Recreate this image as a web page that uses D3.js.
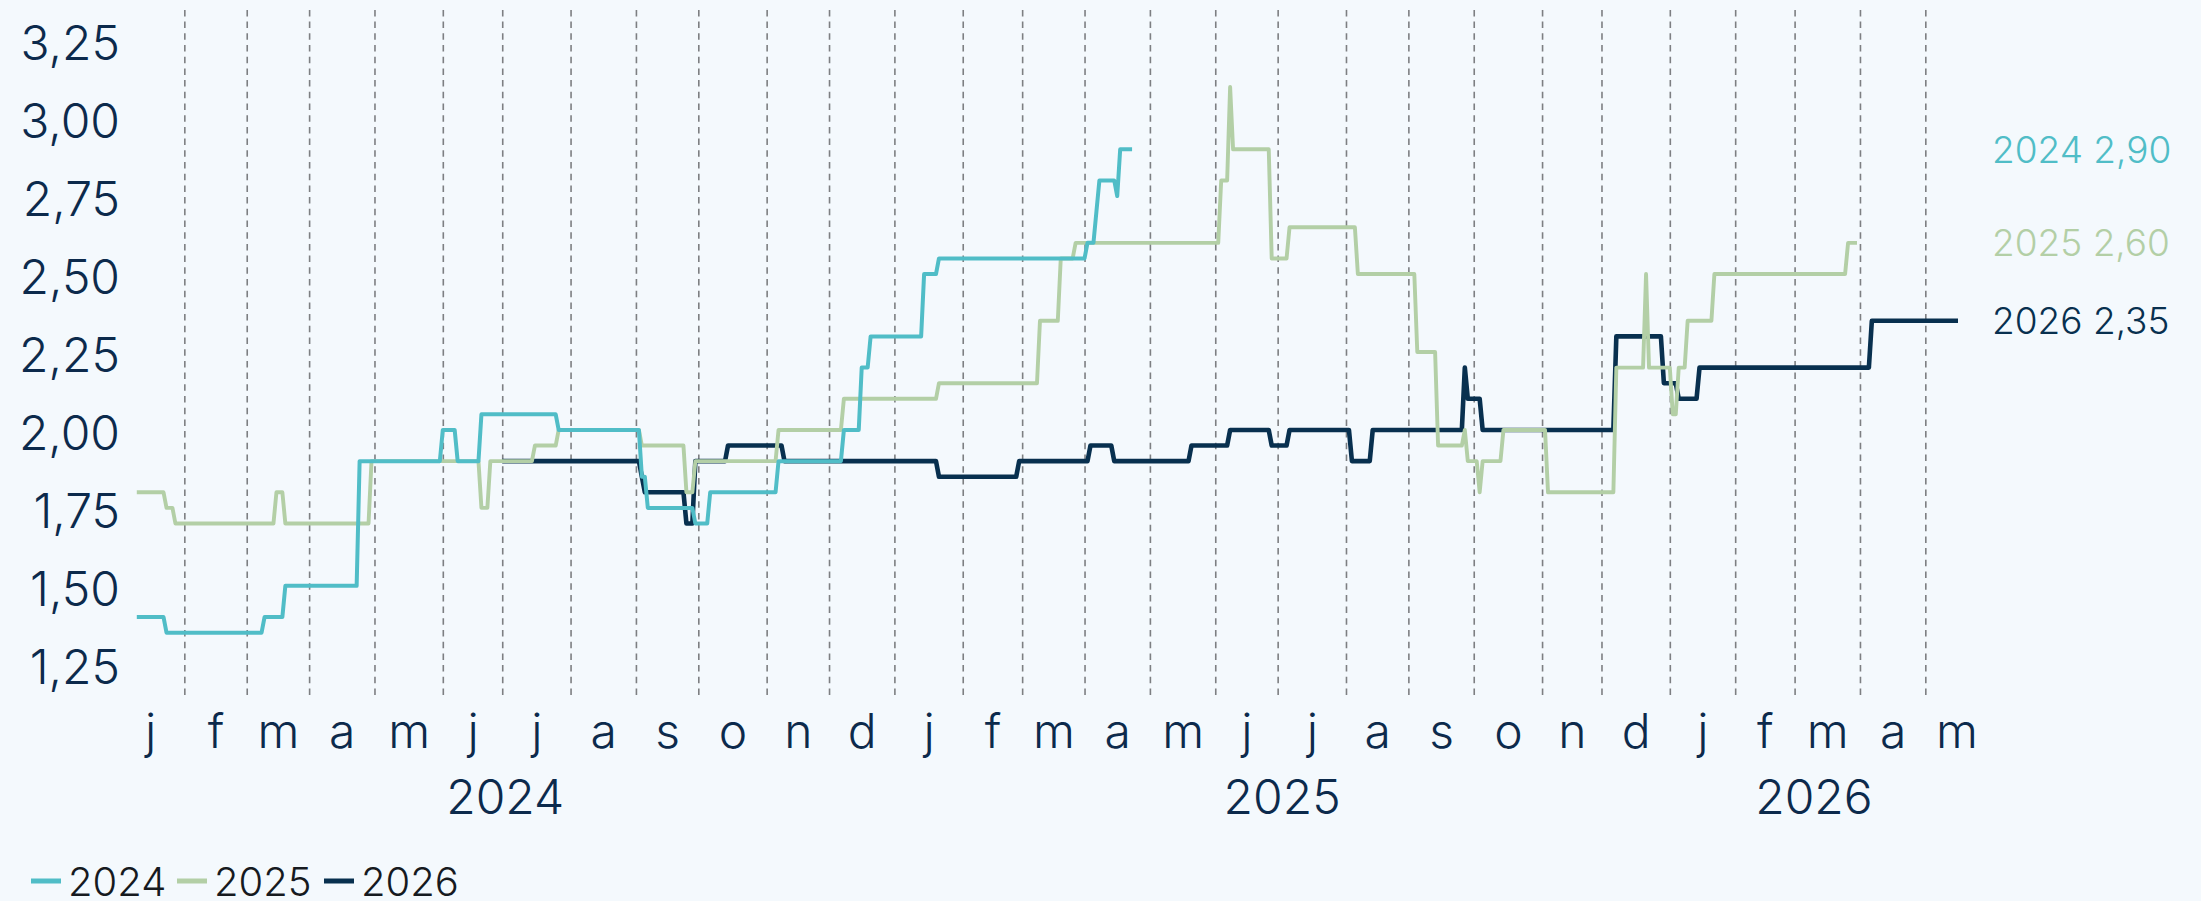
<!DOCTYPE html>
<html>
<head>
<meta charset="utf-8">
<script src="https://cdn.jsdelivr.net/npm/d3@7"></script>
<style>
  html, body { margin: 0; padding: 0; background: #f4f9fd; }
  svg { display: block; }
  text { font-family: Inter, "Noto Sans", sans-serif; font-weight: 300; }
</style>
</head>
<body>
<svg id="chart" width="2201" height="901"></svg>
<script>
// ---- data -------------------------------------------------------------
// Each series is a list of change points: the date a new quote starts and its value.
const seriesNames = ["2024", "2025", "2026"];

const dates2024  = ["2024-01-10","2024-01-24","2024-03-11","2024-03-20","2024-04-24","2024-06-03","2024-06-10",
                    "2024-06-20","2024-07-26","2024-09-04","2024-09-06","2024-09-30","2024-10-07","2024-11-07",
                    "2024-12-09","2024-12-17","2024-12-20","2025-01-15","2025-01-22","2025-04-02","2025-04-07",
                    "2025-04-08","2025-04-16","2025-04-17"];
const values2024 = [1.40,1.35,1.40,1.50,1.90,2.00,1.90,
                    2.05,2.00,1.85,1.75,1.70,1.80,1.90,
                    2.00,2.20,2.30,2.50,2.55,2.60,2.70,
                    2.80,2.75,2.90];
const last2024   = "2025-04-23";

const dates2025  = ["2024-01-10","2024-01-24","2024-01-29","2024-03-15","2024-03-20","2024-04-30","2024-06-20",
                    "2024-06-25","2024-07-16","2024-07-26","2024-09-04","2024-09-25","2024-09-30","2024-11-07",
                    "2024-12-09","2025-01-22","2025-03-11","2025-03-20","2025-03-27","2025-06-04","2025-06-09",
                    "2025-06-10","2025-06-27","2025-07-07","2025-08-07","2025-09-04","2025-09-15","2025-09-26",
                    "2025-09-29","2025-10-03","2025-10-06","2025-10-15","2025-11-05","2025-12-08","2025-12-22",
                    "2025-12-23","2026-01-02","2026-01-06","2026-01-09","2026-01-22","2026-03-26"];
const values2025 = [1.80,1.75,1.70,1.80,1.70,1.90,1.75,
                    1.90,1.95,2.00,1.95,1.80,1.90,2.00,
                    2.10,2.15,2.35,2.55,2.60,2.80,3.10,
                    2.90,2.55,2.65,2.50,2.25,1.95,2.00,
                    1.90,1.80,1.90,2.00,1.80,2.20,2.50,
                    2.20,2.05,2.20,2.35,2.50,2.60];
const last2025   = "2026-03-31";

const dates2026  = ["2024-07-01","2024-09-04","2024-09-05","2024-09-25","2024-09-30","2024-10-15","2024-11-11",
                    "2025-01-22","2025-02-28","2025-04-03","2025-04-15","2025-05-21","2025-06-09","2025-06-27",
                    "2025-07-07","2025-08-05","2025-08-14","2025-09-26","2025-09-29","2025-10-06","2025-12-08",
                    "2025-12-30","2026-01-06","2026-01-15","2026-04-07"];
const values2026 = [1.90,1.85,1.80,1.70,1.90,1.95,1.90,
                    1.85,1.90,1.95,1.90,1.95,2.00,1.95,
                    2.00,1.90,2.00,2.20,2.10,2.00,2.30,
                    2.15,2.10,2.20,2.35];
const last2026   = "2026-05-18";

// axis labels
const monthLetters = ["j","f","m","a","m","j","j","a","s","o","n","d"];
const yearLabels   = ["2024","2025","2026"];
const yTicks       = [1.25,1.50,1.75,2.00,2.25,2.50,2.75,3.00,3.25];
const yDomain      = [1.15, 3.35];
const axisStart    = "2024-01-01";
const axisEnd      = "2026-05-18";

// ---- styling ----------------------------------------------------------
const colors = { "2024": "#50bdc7", "2025": "#b3cfa6", "2026": "#08304f" };
const widths = { "2024": 4, "2025": 3.9, "2026": 4.6 };
const textColor = "#0c2a4c";

// ---- helpers ----------------------------------------------------------
const parse = d3.utcParse("%Y-%m-%d");
const t0 = parse(axisStart);
const isWeekday = d => d.getUTCDay() !== 0 && d.getUTCDay() !== 6;
// position along the trading-day axis: number of weekdays since the axis start
const tradingIndex = d => d3.utcDays(t0, d).filter(isWeekday).length;

const locale = d3.formatLocale({ decimal: ",", thousands: ".", grouping: [3], currency: ["", ""] });
const fmt = locale.format(".2f");

const svg = d3.select("#chart");
const plot = { left: 116, right: 1958, top: 9, bottom: 695 };

const x = d3.scaleLinear()
  .domain([0, tradingIndex(parse(axisEnd))])
  .range([plot.left, plot.right]);
const y = d3.scaleLinear().domain(yDomain).range([plot.bottom, plot.top]);

// ---- month gridlines --------------------------------------------------
const monthStarts = d3.utcMonths(parse("2024-02-01"), d3.utcDay.offset(parse(axisEnd), 1));
svg.append("g")
  .attr("transform", `translate(0,${plot.bottom})`)
  .call(d3.axisBottom(x)
    .tickValues(monthStarts.map(tradingIndex))
    .tickSize(-(plot.bottom - plot.top))
    .tickFormat(""))
  .call(g => g.select(".domain").remove())
  .call(g => g.selectAll(".tick line")
    .attr("stroke", "#7d7f82")
    .attr("stroke-width", 1.6)
    .attr("stroke-dasharray", "6.5,5.2"));

// ---- y axis labels ----------------------------------------------------
svg.append("g")
  .attr("transform", "translate(120,0)")
  .call(d3.axisLeft(y).tickValues(yTicks).tickSize(0).tickPadding(0).tickFormat(fmt))
  .call(g => g.select(".domain").remove())
  .call(g => g.selectAll(".tick text")
    .attr("dy", "0.4em")
    .attr("fill", textColor)
    .attr("font-size", 48)
    .attr("font-family", "Inter, 'Noto Sans', sans-serif"));

// ---- month letters (centred in each month) ----------------------------
const allMonths = d3.utcMonths(t0, parse("2026-06-01"));
const monthMid = m => (tradingIndex(m) + tradingIndex(d3.utcMonth.offset(m, 1))) / 2;
svg.append("g")
  .attr("transform", `translate(0,${plot.bottom})`)
  .call(d3.axisBottom(x)
    .tickValues(allMonths.map(monthMid))
    .tickSize(0)
    .tickFormat((d, i) => monthLetters[allMonths[i].getUTCMonth()]))
  .call(g => g.select(".domain").remove())
  .call(g => g.selectAll(".tick text")
    .attr("y", 53).attr("dy", 0)
    .attr("fill", textColor)
    .attr("font-size", 48)
    .attr("font-family", "Inter, 'Noto Sans', sans-serif"));

// ---- year labels (centred on the visible part of each year) -----------
const endIdx = tradingIndex(parse(axisEnd));
svg.append("g").selectAll("text")
  .data(yearLabels)
  .join("text")
  .attr("x", yr => {
    const a = Math.max(0, tradingIndex(parse(yr + "-01-01")));
    const b = Math.min(endIdx, tradingIndex(parse((+yr + 1) + "-01-01")));
    return x((a + b) / 2);
  })
  .attr("y", 814)
  .attr("text-anchor", "middle")
  .attr("fill", textColor)
  .attr("font-size", 48)
  .text(d => d);

// ---- series -----------------------------------------------------------
const rawSeries = {
  "2024": { dates: dates2024, values: values2024, last: last2024 },
  "2025": { dates: dates2025, values: values2025, last: last2025 },
  "2026": { dates: dates2026, values: values2026, last: last2026 }
};

// Daily quotes hold their value until the next change; each change is drawn
// from the previous trading day to the day it takes effect.
function stepPoints(s) {
  const pts = [];
  s.dates.forEach((ds, i) => {
    const k = tradingIndex(parse(ds));
    if (i > 0) pts.push([k - 1, s.values[i - 1]]);
    pts.push([k, s.values[i]]);
  });
  pts.push([tradingIndex(parse(s.last)), s.values[s.values.length - 1]]);
  return pts;
}

const line = d3.line().x(d => x(d[0])).y(d => y(d[1]));

const drawOrder = ["2026", "2025", "2024"];
svg.append("g").selectAll("path")
  .data(drawOrder)
  .join("path")
  .attr("d", name => line(stepPoints(rawSeries[name])))
  .attr("fill", "none")
  .attr("stroke", name => colors[name])
  .attr("stroke-width", name => widths[name])
  .attr("stroke-linejoin", "round");

// ---- end-of-line labels -----------------------------------------------
svg.append("g").selectAll("text")
  .data(seriesNames)
  .join("text")
  .attr("x", 1992)
  .attr("y", name => y(rawSeries[name].values[rawSeries[name].values.length - 1]))
  .attr("dy", "0.36em")
  .attr("fill", name => colors[name])
  .attr("font-size", 37)
  .text(name => `${name} ${fmt(rawSeries[name].values[rawSeries[name].values.length - 1])}`);

// ---- legend -----------------------------------------------------------
const legendX = { "2024": 31, "2025": 177, "2026": 324 };
const legend = svg.append("g");
seriesNames.forEach(name => {
  const g = legend.append("g").attr("transform", `translate(${legendX[name]},881)`);
  g.append("line")
    .attr("x1", 0).attr("x2", 30)
    .attr("stroke", colors[name]).attr("stroke-width", 5);
  g.append("text")
    .attr("x", 37).attr("y", 15)
    .attr("fill", "#161a1f")
    .attr("font-size", 40)
    .text(name);
});
</script>
</body>
</html>
